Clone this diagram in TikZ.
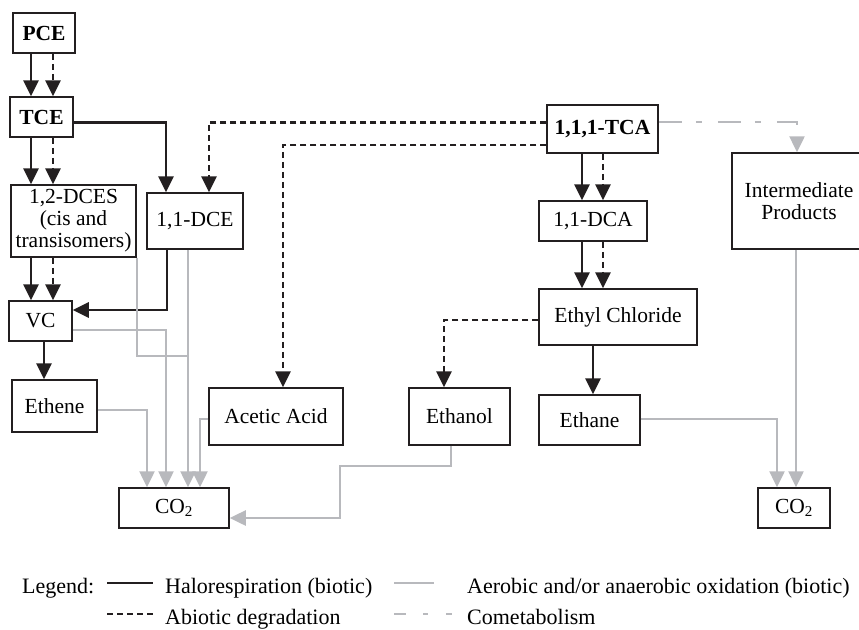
\documentclass[tikz,border=0pt]{standalone}
\usepackage{fontspec}
\setmainfont{Liberation Serif}
\usetikzlibrary{positioning, arrows.meta}
\definecolor{ink}{RGB}{35,31,32}
\definecolor{oxgray}{RGB}{184,185,189}
\newcommand\lblsize{\fontsize{21.5}{22}\selectfont}
\newcommand\legsize{\fontsize{22}{24}\selectfont}

\begin{document}
\begin{tikzpicture}[x=1pt, y=-1pt, font=\lblsize,
    box/.style={draw=ink, line width=1.5pt, inner sep=0pt, align=center},
    bold/.style={font=\lblsize\bfseries},
    halo/.style={draw=ink, line width=2.7pt, -{Triangle[length=16pt,width=15pt]}},
    abio/.style={halo, dash pattern=on 6pt off 4pt},
    oxid/.style={draw=oxgray, line width=2.5pt, -{Triangle[length=16pt,width=15pt]}},
    cometab/.style={oxid, dash pattern=on 23pt off 14pt on 6pt off 16pt},
    elbow/.style={to path={-| (\tikztotarget)}},
    elbowv/.style={to path={|- (\tikztotarget)}},
    leg/.style={anchor=base west, inner sep=0pt, font=\legsize}]
  \useasboundingbox (0,0) rectangle (859,629);

  \node[box, bold, minimum width=62pt, minimum height=40pt] (pce) at (44,33) {PCE};
  \node[box, bold, minimum width=63pt, minimum height=40pt] (tce) at (41.5,117) {TCE};
  \node[box, minimum width=125pt, minimum height=72pt] (dces) at (73.5,221) {1,2-DCES\\(cis and\\transisomers)};
  \node[box, minimum width=96pt, minimum height=56pt] (dce) at (195,221) {1,1-DCE};
  \node[box, minimum width=63pt, minimum height=40pt] (vc) at (40.5,321) {VC};
  \node[box, minimum width=85pt, minimum height=52pt] (ethene) at (54.5,406) {Ethene};
  \node[box, minimum width=110pt, minimum height=40pt] (co2l) at (174,508) {CO\textsubscript{2}};
  \node[box, minimum width=134pt, minimum height=57pt] (acetic) at (276,416.5) {Acetic Acid};
  \node[box, bold, minimum width=111pt, minimum height=48pt] (tca) at (602.5,129) {1,1,1-TCA};
  \node[box, minimum width=108pt, minimum height=40pt] (dca) at (593,221) {1,1-DCA};
  \node[box, minimum width=158pt, minimum height=56pt] (ethyl) at (618,317) {Ethyl Chloride};
  \node[box, minimum width=101pt, minimum height=57pt] (ethanol) at (459.5,416.5) {Ethanol};
  \node[box, minimum width=101pt, minimum height=50pt] (ethane) at (589.5,420) {Ethane};
  \node[box, minimum width=134pt, minimum height=96pt] (inter) at (799,201) {Intermediate\\Products};
  \node[box, minimum width=72pt, minimum height=40pt] (co2r) at (794,508) {CO\textsubscript{2}};
  \coordinate (bend) at (340,466);

  \draw
  ([xshift=-13pt]pce.south) edge[halo] ([xshift=-10.5pt]tce.north)
  ([xshift=9pt]pce.south) edge[abio] ([xshift=11.5pt]tce.north)
  ([xshift=-10.5pt]tce.south) edge[halo] ([xshift=-42.5pt]dces.north)
  ([xshift=11.5pt]tce.south) edge[abio] ([xshift=-20.5pt]dces.north)
  ([yshift=-5.5pt]tce.east) edge[halo, elbow] ([xshift=-29pt]dce.north)
  ([xshift=-42.5pt]dces.south) edge[halo] ([xshift=-9.5pt]vc.north)
  ([xshift=-20.5pt]dces.south) edge[abio] ([xshift=12.5pt]vc.north)
  ([xshift=-28pt]dce.south) edge[halo, elbowv] ([yshift=11pt]vc.east)
  ([xshift=3.5pt]vc.south) edge[halo] ([xshift=-10.5pt]ethene.north)
  ([yshift=6.3pt]tca.west) edge[abio, elbow] ([xshift=14pt]dce.north)
  ([yshift=-16pt]tca.west) edge[abio, elbow] ([xshift=7pt]acetic.north)
  ([xshift=-20.5pt]tca.south) edge[halo] ([xshift=-11pt]dca.north)
  ([xshift=0.5pt]tca.south) edge[abio] ([xshift=10pt]dca.north)
  ([xshift=-11pt]dca.south) edge[halo] ([xshift=-36pt]ethyl.north)
  ([xshift=10pt]dca.south) edge[abio] ([xshift=-15pt]ethyl.north)
  ([xshift=-25pt]ethyl.south) edge[halo] ([xshift=3.5pt]ethane.north)
  ([yshift=-3pt]ethyl.west) edge[abio, elbow] ([xshift=-15.5pt]ethanol.north)
  ([yshift=7pt]tca.east) edge[cometab, elbow] ([xshift=-2pt]inter.north);

  \draw[oxid, -] (dces.south east) -- ++(0,98) -- ++(52,0);
  \draw
  ([xshift=-7pt]dce.south) edge[oxid] ([xshift=14pt]co2l.north)
  ([yshift=-9pt]vc.east) edge[oxid, elbow] ([xshift=-8pt]co2l.north)
  ([yshift=-4pt]ethene.east) edge[oxid, elbow] ([xshift=-27pt]co2l.north)
  ([yshift=-2.5pt]acetic.west) edge[oxid, elbow] ([xshift=26pt]co2l.north)
  ([yshift=1pt]ethane.east) edge[oxid, elbow] ([xshift=-17pt]co2r.north)
  ([xshift=-3pt]inter.south) edge[oxid] ([xshift=2pt]co2r.north);
  \draw[oxid] ([xshift=-8.5pt]ethanol.south) |- (bend) |- ([yshift=-10pt]co2l.east);

  \node[leg] (legend) at (22,593) {Legend:};
  \node[leg] (lhalo) at (165,593) {Halorespiration (biotic)};
  \node[leg] (loxid) at (467,593) {Aerobic and/or anaerobic oxidation (biotic)};
  \node[leg] (labio) at (165,624) {Abiotic degradation};
  \node[leg] (lcomet) at (467,624) {Cometabolism};
  \draw[halo, -] (107,583) -- (153,583);
  \draw[oxid, -] (394,583) -- (434,583);
  \draw[abio, -] (107,614) -- (155,614);
  \draw[oxid, -, dash pattern=on 12pt off 17pt on 5pt off 18pt] (394,614) -- (452,614);
\end{tikzpicture}
\end{document}
